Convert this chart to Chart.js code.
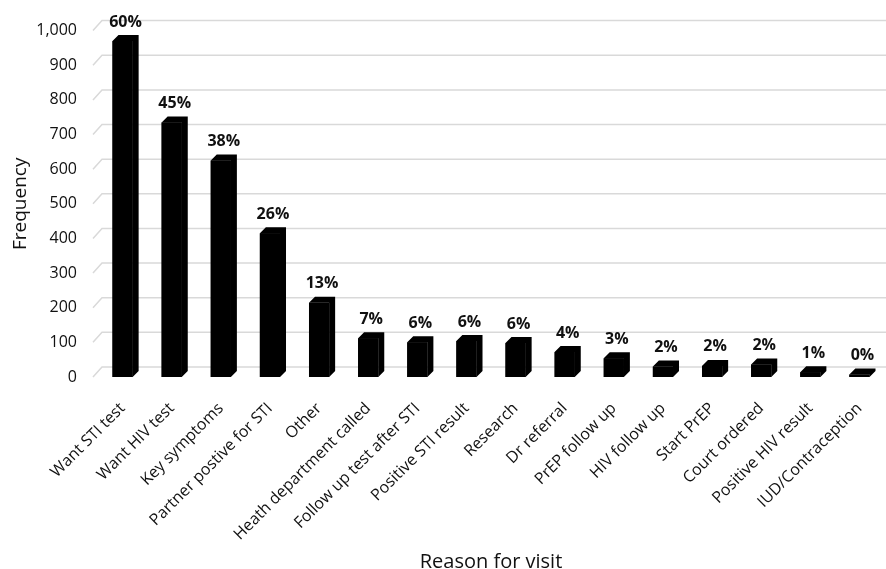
<!DOCTYPE html>
<html>
<head>
<meta charset="utf-8">
<script src="https://cdn.jsdelivr.net/npm/chart.js@4.4.1/dist/chart.umd.min.js"></script>
<style>
  html, body { margin: 0; padding: 0; background: #fff; }
  #wrap { width: 886px; height: 569px; }
</style>
</head>
<body>
<div id="wrap"><canvas id="graficoVisitas"></canvas></div>
<script>
// Datos
var razones = ['Want STI test', 'Want HIV test', 'Key symptoms', 'Partner postive for STI', 'Other',
  'Heath department called', 'Follow up test after STI', 'Positive STI result', 'Research',
  'Dr referral', 'PrEP follow up', 'HIV follow up', 'Start PrEP', 'Court ordered',
  'Positive HIV result', 'IUD/Contraception'];
var frecuencias = [970, 735, 625, 415, 214, 112, 100, 104, 98, 72, 54, 30, 32, 36, 14, 7];
var porcentajes = ['60%', '45%', '38%', '26%', '13%', '7%', '6%', '6%', '6%', '4%', '3%', '2%', '2%', '2%', '1%', '0%'];
var ticksY = [0, 100, 200, 300, 400, 500, 600, 700, 800, 900, 1000];

var FONT = "'Open Sans', 'DejaVu Sans', sans-serif";
var PROF = 6;          // profundidad de las barras
var PARED_DX = 9, PARED_DY = 10; // desplazamiento de la pared del fondo

// Pared del fondo con las líneas de la cuadrícula
var paredFondo = {
  id: 'paredFondo',
  beforeDatasetsDraw: function (chart) {
    var ctx = chart.ctx, y = chart.scales.y, area = chart.chartArea;
    ctx.save();
    ctx.strokeStyle = '#d9d9d9';
    ctx.lineWidth = 1.5;
    ticksY.forEach(function (v) {
      var py = y.getPixelForValue(v);
      ctx.beginPath();
      ctx.moveTo(area.left - 5, py);
      ctx.lineTo(area.left - 5 + PARED_DX, py - PARED_DY);
      ctx.lineTo(chart.width, py - PARED_DY);
      ctx.stroke();
    });
    ctx.restore();
  }
};

// Efecto 3D y etiquetas de porcentaje
var barras3D = {
  id: 'barras3D',
  afterDatasetsDraw: function (chart) {
    var ctx = chart.ctx;
    var meta = chart.getDatasetMeta(0);
    ctx.save();
    meta.data.forEach(function (bar, i) {
      var w = bar.width, l = bar.x - w / 2, r = bar.x + w / 2, t = bar.y, b = bar.base;
      ctx.fillStyle = '#000';
      ctx.beginPath();
      ctx.moveTo(l, t);
      ctx.lineTo(l + PROF, t - PROF);
      ctx.lineTo(r + PROF, t - PROF);
      ctx.lineTo(r + PROF, b - PROF);
      ctx.lineTo(r, b);
      ctx.lineTo(r, t);
      ctx.closePath();
      ctx.fill();
      ctx.fillRect(l, t, w, b - t);

      ctx.fillStyle = '#111';
      ctx.font = 'bold 16px ' + FONT;
      ctx.textAlign = 'center';
      ctx.textBaseline = 'bottom';
      ctx.fillText(porcentajes[i], bar.x + PROF / 2, t - PROF - 5);
    });
    ctx.restore();
  }
};

var ctx1 = document.getElementById('graficoVisitas').getContext('2d');
var graficoVisitas = new Chart(ctx1, {
  type: 'bar',
  data: {
    labels: razones,
    datasets: [{
      label: 'Frequency',
      data: frecuencias,
      backgroundColor: '#000',
      borderWidth: 0,
      barPercentage: 0.82,
      categoryPercentage: 0.5
    }]
  },
  options: {
    responsive: true,
    maintainAspectRatio: false,
    animation: false,
    layout: { padding: { top: 30, right: 2, left: 0, bottom: 0 } },
    plugins: {
      legend: { display: false },
      tooltip: { enabled: false }
    },
    scales: {
      x: {
        grid: { display: false, drawTicks: false },
        border: { display: false },
        ticks: {
          font: { family: FONT, size: 16 },
          color: '#111',
          maxRotation: 45,
          minRotation: 45,
          padding: 22
        },
        title: {
          display: true,
          text: 'Reason for visit',
          font: { family: FONT, size: 20 },
          color: '#111',
          padding: { top: 4, bottom: -5 }
        },
        afterFit: function (scale) {
          scale.height = 192;
          scale.paddingLeft = 0;
          scale.paddingRight = 0;
        }
      },
      y: {
        min: 0,
        max: 1000,
        grid: { display: false, drawTicks: false },
        border: { display: false },
        ticks: {
          stepSize: 100,
          font: { family: FONT, size: 16 },
          color: '#111',
          padding: 21,
          callback: function (v) { return v.toLocaleString('en-US'); }
        },
        title: {
          display: true,
          text: 'Frequency',
          font: { family: FONT, size: 19 },
          color: '#111',
          padding: { top: 9, bottom: 0 }
        },
        afterFit: function (scale) { scale.width = 98; }
      }
    }
  },
  plugins: [paredFondo, barras3D]
});
</script>
</body>
</html>
